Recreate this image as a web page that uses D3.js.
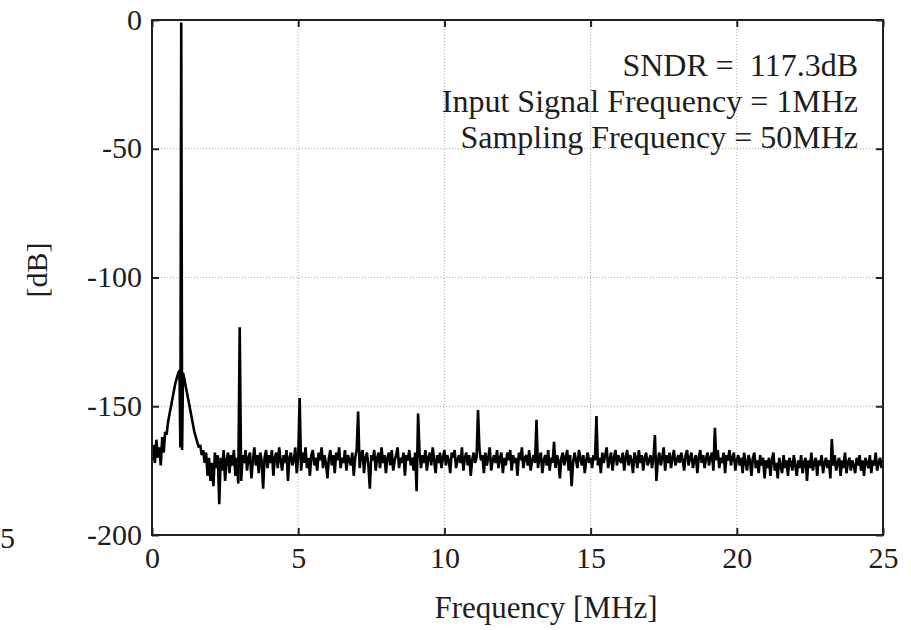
<!DOCTYPE html>
<html>
<head>
<meta charset="utf-8">
<script src="https://cdn.jsdelivr.net/npm/d3@7"></script>
<style>
	html, body { margin: 0; padding: 0; background: #fff; }
	text { font-family: "Liberation Serif", "DejaVu Serif", serif; fill: #1e1e1e; }
</style>
</head>
<body>
<svg id="MainView" width="911" height="630"></svg>
<script>
// axis ticks
var xTicks = [0, 5, 10, 15, 20, 25];
var yTicks = [0, -50, -100, -150, -200];

// carrier + skirt, 0 .. 2 MHz
var carrierFreq = [0, 0.05, 0.1, 0.15, 0.2, 0.25, 0.3, 0.35, 0.4, 0.45, 0.5, 0.55, 0.6, 0.65, 0.7, 0.75, 0.8, 0.85, 0.9, 0.94,
	0.97, 1.0, 1.03, 1.06, 1.1, 1.15, 1.2, 1.25, 1.3, 1.35, 1.4, 1.45, 1.5, 1.55, 1.6, 1.65, 1.7, 1.75, 1.8, 1.85, 1.9, 1.95, 2.0];
var carrierDb = [-171, -165, -172, -163, -170, -166, -173, -162, -168, -160, -161, -156, -153, -150, -147, -144, -141, -139, -137, -136,
	-166, -1, -167, -137, -139, -142, -145, -148, -151, -154, -157, -160, -162, -164, -166, -165, -169, -167, -172, -168, -177, -170, -179];

// noise floor, 2.05 .. 25 MHz every 0.05 MHz (one row = 1 MHz)
var noiseStart = 2.05, noiseStep = 0.05;
var noiseDb = [
	-172,-181,-168,-174,-169,-188,-170,-175,-167,-179,-171,-168,-176,-169,-173,-167,-177,-170,-180,-170,
	-179,-169,-172,-167,-175,-170,-168,-178,-171,-166,-173,-169,-176,-168,-171,-182,-170,-167,-174,-169,
	-172,-167,-177,-170,-168,-174,-166,-171,-175,-169,-172,-167,-179,-170,-168,-173,-171,-166,-176,-170,
	-171,-175,-168,-172,-166,-174,-170,-177,-169,-167,-173,-170,-175,-168,-171,-166,-174,-169,-172,-178,
	-170,-167,-173,-169,-176,-168,-171,-166,-174,-170,-172,-167,-175,-169,-171,-173,-168,-177,-170,-167,
	-172,-174,-169,-167,-176,-170,-168,-173,-182,-169,-171,-167,-175,-170,-168,-174,-166,-172,-169,-176,
	-170,-168,-173,-167,-175,-171,-169,-166,-174,-170,-172,-168,-177,-169,-171,-167,-173,-170,-175,-168,
	-183,-171,-168,-174,-169,-172,-167,-175,-170,-168,-173,-166,-171,-176,-169,-172,-168,-174,-170,-167,
	-173,-169,-171,-176,-168,-170,-167,-174,-171,-169,-172,-166,-175,-170,-168,-173,-169,-177,-171,-168,
	-172,-170,-174,-167,-171,-169,-176,-168,-173,-170,-166,-175,-171,-169,-172,-167,-174,-170,-168,-176,
	-170,-173,-168,-171,-167,-175,-169,-172,-170,-177,-168,-171,-166,-174,-170,-169,-173,-167,-175,-171,
	-169,-172,-167,-174,-170,-168,-176,-171,-169,-173,-167,-175,-170,-172,-168,-174,-169,-171,-178,-170,
	-168,-173,-170,-167,-175,-169,-181,-172,-168,-171,-174,-167,-170,-173,-169,-176,-171,-168,-172,-170,
	-174,-169,-171,-167,-173,-170,-176,-168,-172,-169,-166,-174,-171,-168,-175,-170,-167,-173,-169,-171,
	-172,-168,-175,-170,-167,-173,-169,-171,-176,-168,-170,-174,-167,-172,-169,-175,-170,-168,-173,-171,
	-169,-174,-170,-167,-179,-171,-168,-173,-170,-166,-175,-169,-172,-168,-174,-170,-167,-173,-171,-169,
	-172,-168,-171,-175,-169,-167,-173,-170,-168,-174,-171,-169,-176,-170,-167,-172,-169,-174,-170,-168,
	-173,-170,-168,-175,-169,-171,-167,-174,-170,-172,-168,-176,-169,-171,-167,-173,-170,-168,-175,-171,
	-169,-173,-170,-176,-168,-172,-175,-169,-171,-177,-170,-168,-174,-171,-176,-169,-173,-170,-178,-171,
	-174,-170,-177,-171,-168,-175,-172,-178,-170,-173,-176,-169,-174,-171,-177,-170,-172,-175,-169,-173,
	-177,-171,-174,-169,-176,-172,-170,-179,-171,-174,-168,-175,-172,-170,-177,-171,-173,-169,-176,-172,
	-170,-174,-171,-178,-170,-173,-169,-175,-172,-170,-177,-171,-174,-168,-176,-172,-170,-175,-171,-173,
	-176,-170,-173,-169,-175,-171,-177,-170,-172,-174,-169,-176,-171,-173,-168,-175,-172,-170,-174,-171
];

// harmonic / spur spikes
var harmFreq = [3.0, 5.05, 7.05, 9.1, 11.15, 13.15, 13.75, 15.2, 17.2, 19.25, 23.25];
var harmDb = [-119.3, -146.8, -152.1, -152.8, -151.5, -155.3, -163.8, -153.8, -161.2, -158.4, -162.7];

var annotation = ["SNDR =  117.3dB", "Input Signal Frequency = 1MHz", "Sampling Frequency = 50MHz"];

// plot box (window.top is reserved, so keep own names)
var plotL = 152, plotR = 883, plotT = 20, plotB = 535;

var svg = d3.select("#MainView");

var x = d3.scaleLinear().domain([0, 25]).range([plotL, plotR]);
var y = d3.scaleLinear().domain([-200, 0]).range([plotB, plotT]);

// build spectrum points
var spectrum = [];
for (var i = 0; i < carrierFreq.length; i++) spectrum.push([carrierFreq[i], carrierDb[i]]);
var noisePts = noiseDb.map(function(v, i){ return [noiseStart + i * noiseStep, v]; });
harmFreq.forEach(function(f, k){
	var idx = Math.round((f - noiseStart) / noiseStep);
	noisePts[idx] = [f, harmDb[k]];
});
spectrum = spectrum.concat(noisePts);

// grid
var grid = svg.append("g").attr("class", "grid");
grid.selectAll(".vg").data(xTicks.slice(1, -1)).enter().append("line")
	.attr("x1", function(d){ return x(d); }).attr("x2", function(d){ return x(d); })
	.attr("y1", plotT).attr("y2", plotB);
grid.selectAll(".hg").data(yTicks.slice(1, -1)).enter().append("line")
	.attr("x1", plotL).attr("x2", plotR)
	.attr("y1", function(d){ return y(d); }).attr("y2", function(d){ return y(d); });
grid.selectAll("line")
	.attr("stroke", "#a8a8a8").attr("stroke-width", 1).attr("stroke-dasharray", "1,2");

// spectrum trace
svg.append("clipPath").attr("id", "plotClip")
	.append("rect").attr("x", plotL).attr("y", plotT).attr("width", plotR - plotL).attr("height", plotB - plotT);

var line = d3.line()
	.x(function(d){ return x(d[0]); })
	.y(function(d){ return y(d[1]); });

svg.append("path")
	.datum(spectrum)
	.attr("clip-path", "url(#plotClip)")
	.attr("d", line)
	.attr("fill", "none")
	.attr("stroke", "#000")
	.attr("stroke-width", 2.6)
	.attr("stroke-linejoin", "bevel");

// axes, ticks pointing inward on all four sides
var fmt = function(d){ return String(d); };   // plain hyphen, like the original
var axisB = d3.axisBottom(x).tickValues(xTicks).tickSizeInner(-7).tickSizeOuter(0).tickPadding(14).tickFormat(fmt);
var axisT = d3.axisTop(x).tickValues(xTicks).tickSizeInner(-7).tickSizeOuter(0).tickFormat("");
var axisL = d3.axisLeft(y).tickValues(yTicks).tickSizeInner(-7).tickSizeOuter(0).tickPadding(10).tickFormat(fmt);
var axisR = d3.axisRight(y).tickValues(yTicks).tickSizeInner(-7).tickSizeOuter(0).tickFormat("");

var gB = svg.append("g").attr("transform", "translate(0," + plotB + ")").call(axisB);
var gT = svg.append("g").attr("transform", "translate(0," + plotT + ")").call(axisT);
var gL = svg.append("g").attr("transform", "translate(" + plotL + ",0)").call(axisL);
var gR = svg.append("g").attr("transform", "translate(" + plotR + ",0)").call(axisR);

[gB, gT, gL, gR].forEach(function(g){
	g.select(".domain").remove();
	g.selectAll(".tick line").attr("stroke", "#222").attr("stroke-width", 2);
	g.selectAll(".tick text").attr("font-size", "30px").attr("fill", "#1e1e1e")
		.style("font-family", "'Liberation Serif', serif");
});
gL.selectAll(".tick text").attr("dy", "0.3em");
gB.selectAll(".tick text").attr("dy", "0.71em").attr("y", 12);

// frame
svg.append("rect")
	.attr("x", plotL).attr("y", plotT).attr("width", plotR - plotL).attr("height", plotB - plotT)
	.attr("fill", "none").attr("stroke", "#222").attr("stroke-width", 2);

// labels
svg.append("text")
	.attr("x", 546).attr("y", 618)
	.attr("text-anchor", "middle").attr("font-size", "31px")
	.text("Frequency [MHz]");

svg.append("text")
	.attr("transform", "translate(47,270) rotate(-90)")
	.attr("text-anchor", "middle").attr("font-size", "30px")
	.text("[dB]");

// piece of the neighbouring figure's axis label
svg.append("text")
	.attr("x", 0).attr("y", 548).attr("font-size", "30px")
	.text("5");

// annotation block
svg.append("g").selectAll("text").data(annotation).enter().append("text")
	.attr("x", 858)
	.attr("y", function(d, i){ return 76 + i * 36; })
	.attr("text-anchor", "end")
	.attr("font-size", "32px")
	.style("white-space", "pre")
	.text(function(d){ return d; });
</script>
</body>
</html>
